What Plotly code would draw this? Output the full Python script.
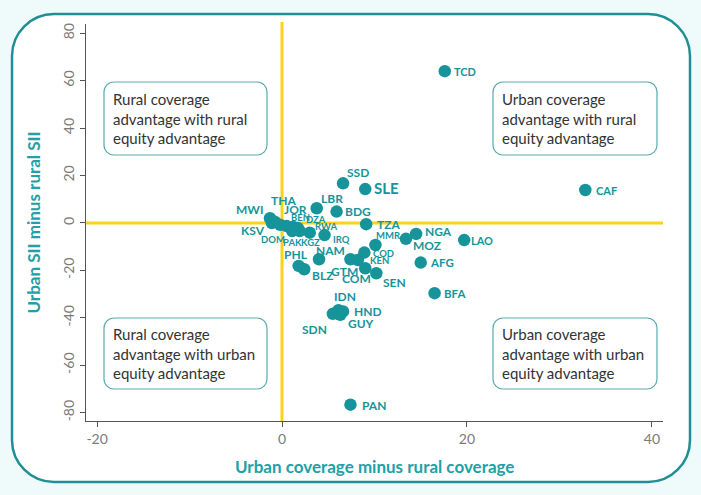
import plotly.graph_objects as go

# ---------------- data ----------------
countries = ["TCD", "CAF", "SSD", "SLE", "LBR", "BDG", "MWI", "KSV", "THA", "DOM", "JOR",
             "PAK", "BEN", "DZA", "KGZ", "RWA", "IRQ", "TZA", "MMR", "MOZ", "NGA", "LAO",
             "AFG", "BFA", "NAM", "PHL", "BLZ", "COD", "GTM", "KEN", "COM", "SEN",
             "SDN", "IDN", "GUY", "HND", "PAN"]
coverage_gap = [17.6, 32.8, 6.6, 9.0, 3.75, 5.9, -1.3, -1.1, -0.8, -0.2, 0.5,
                1.1, 1.2, 1.7, 1.9, 3.0, 4.6, 9.1, 10.1, 13.4, 14.5, 19.7,
                15.0, 16.5, 4.0, 1.8, 2.4, 8.9, 7.4, 8.2, 9.0, 10.2,
                5.5, 6.1, 6.3, 6.6, 7.4]
sii_gap = [64.0, 13.9, 16.7, 14.3, 6.2, 4.8, 2.0, 0.0, 0.5, -0.8, -1.3,
           -3.4, -1.7, -2.1, -3.4, -4.1, -5.1, -0.5, -9.3, -6.7, -4.6, -7.2,
           -16.7, -29.6, -15.3, -18.1, -19.5, -12.5, -15.3, -15.6, -19.1, -21.2,
           -38.3, -36.8, -38.7, -37.3, -76.6]
x_ticks = [-20, 0, 20, 40]
x_tick_labels = ["-20", "0", "20", "40"]
y_ticks = [-80, -60, -40, -20, 0, 20, 40, 60, 80]
y_tick_labels = ["-80", "-60", "-40", "-20", "0", "20", "40", "60", "80"]
quadrant_texts = [
    "Rural coverage<br>advantage with rural<br>equity advantage",
    "Urban coverage<br>advantage with rural<br>equity advantage",
    "Rural coverage<br>advantage with urban<br>equity advantage",
    "Urban coverage<br>advantage with urban<br>equity advantage",
]

# ---------------- label styling (anchor, dx px, dy px, font size) ----------------
label_style = {
    "TCD": ("left", 7, 0, 11), "CAF": ("left", 9, 0, 11), "SSD": ("center", 15, 11, 12),
    "SLE": ("left", 7, 1, 15), "LBR": ("center", 15, 10, 12), "BDG": ("left", 6, 0, 12),
    "MWI": ("right", -4, 9, 12), "KSV": ("right", -5, -8, 12), "THA": ("center", 9, 21, 12),
    "DOM": ("center", -7, -15, 9.5), "JOR": ("center", 9, 17, 12), "PAK": ("center", 0, -11, 9.5),
    "BEN": ("center", 7, 10, 9.5), "DZA": ("center", 18, 8, 9.5), "KGZ": ("center", 11, -11, 9.5),
    "RWA": ("center", 16, 6, 9.5), "IRQ": ("left", 6, -4, 9.5), "TZA": ("left", 9, 0, 12),
    "MMR": ("center", 13, 10, 9.5), "MOZ": ("center", 21, -7, 12), "NGA": ("left", 7, 2, 12),
    "LAO": ("left", 5, 0, 11), "AFG": ("left", 7, 0, 11.5), "BFA": ("left", 7, 0, 11.5),
    "NAM": ("center", 11, 9, 12), "PHL": ("center", -3, 11, 12), "BLZ": ("left", 6, -6, 12),
    "COD": ("left", 7, -1, 9.5), "GTM": ("center", -6, -12, 12), "KEN": ("left", 10, -1, 9.5),
    "COM": ("center", -9, -10, 12), "SEN": ("left", 5, -9, 12), "SDN": ("center", -18, -16, 12),
    "IDN": ("center", 7, 14, 12), "GUY": ("center", 21, -9, 12), "HND": ("left", 9, 0, 12),
    "PAN": ("left", 10, -1, 12),
}

TEAL = "#17949a"
YELLOW = "#FFD21A"
W, H = 701, 495
L, R, T, B = 86, 38, 24, 74
PW, PH = W - L - R, H - T - B


def px_x(px):
    return (px - L) / PW


def px_y(py):
    return (H - B - py) / PH


def rounded_path(x0, y0, x1, y1, r):
    k = 0.4477 * r
    X, Y = px_x, px_y
    return (f"M {X(x0 + r)},{Y(y0)} L {X(x1 - r)},{Y(y0)} "
            f"C {X(x1 - k)},{Y(y0)} {X(x1)},{Y(y0 + k)} {X(x1)},{Y(y0 + r)} "
            f"L {X(x1)},{Y(y1 - r)} "
            f"C {X(x1)},{Y(y1 - k)} {X(x1 - k)},{Y(y1)} {X(x1 - r)},{Y(y1)} "
            f"L {X(x0 + r)},{Y(y1)} "
            f"C {X(x0 + k)},{Y(y1)} {X(x0)},{Y(y1 - k)} {X(x0)},{Y(y1 - r)} "
            f"L {X(x0)},{Y(y0 + r)} "
            f"C {X(x0)},{Y(y0 + k)} {X(x0 + k)},{Y(y0)} {X(x0 + r)},{Y(y0)} Z")


fig = go.Figure()
fig.add_trace(go.Scatter(
    x=coverage_gap, y=sii_gap, mode="markers",
    marker=dict(size=12.5, color=TEAL, line=dict(width=0)),
    text=countries, hoverinfo="text", showlegend=False,
))

annotations = []
for c, xv, yv in zip(countries, coverage_gap, sii_gap):
    anc, dx, dy, fs = label_style[c]
    annotations.append(dict(
        x=xv, y=yv, xref="x", yref="y", text=c, showarrow=False,
        xanchor=anc, yanchor="middle", xshift=dx, yshift=dy,
        font=dict(family="Lato", size=fs, color=TEAL, weight="bold"),
    ))

shapes = []
# outer frame
shapes.append(dict(type="path", xref="paper", yref="paper", layer="below",
                   path=rounded_path(12, 14, 690, 482, 42),
                   fillcolor="white", line=dict(color="#1f8f95", width=2.5)))
# reference lines
shapes.append(dict(type="line", xref="x", yref="paper", x0=0, x1=0, y0=0, y1=1.005,
                   layer="below", line=dict(color=YELLOW, width=3)))
shapes.append(dict(type="line", xref="paper", yref="y", x0=0, x1=1, y0=0, y1=0,
                   layer="below", line=dict(color=YELLOW, width=3)))

# quadrant boxes (pixel boxes)
boxes = [(104, 82, 267, 155), (493, 82, 657, 155), (104, 318, 267, 389), (493, 318, 657, 389)]
for (bx0, by0, bx1, by1), txt in zip(boxes, quadrant_texts):
    shapes.append(dict(type="path", xref="paper", yref="paper", layer="below",
                       path=rounded_path(bx0, by0, bx1, by1, 10),
                       fillcolor="white", line=dict(color="#5aabad", width=1.2)))
    annotations.append(dict(
        x=px_x(bx0 + 7), y=px_y((by0 + by1) / 2), xref="paper", yref="paper",
        text=txt, showarrow=False, xanchor="left", yanchor="middle", align="left",
        font=dict(family="Lato", size=15, color="#333333"),
    ))

# axis titles
annotations.append(dict(x=0.5, y=px_y(466), xref="paper", yref="paper",
                        text="Urban coverage minus rural coverage", showarrow=False,
                        xanchor="center", yanchor="middle",
                        font=dict(family="Lato", size=17, color="#22a0a5", weight="bold")))
annotations.append(dict(x=px_x(33), y=0.5, xref="paper", yref="paper",
                        text="Urban SII minus rural SII", showarrow=False, textangle=-90,
                        xanchor="center", yanchor="middle",
                        font=dict(family="Lato", size=17, color="#22a0a5", weight="bold")))

fig.update_layout(
    width=W, height=H,
    margin=dict(l=L, r=R, t=T, b=B),
    paper_bgcolor="#effbfb",
    plot_bgcolor="rgba(0,0,0,0)",
    shapes=shapes,
    annotations=annotations,
    xaxis=dict(range=[-21.2, 41.2], tickvals=x_ticks, ticktext=x_tick_labels,
               showgrid=False, zeroline=False,
               showline=True, linecolor="#555555", linewidth=1,
               ticks="outside", ticklen=5, tickcolor="#555555",
               tickfont=dict(family="Lato", size=14, color="#7a7a7a")),
    yaxis=dict(range=[-83.5, 83.9], tickvals=y_ticks, ticktext=y_tick_labels,
               showgrid=False, zeroline=False,
               showline=True, linecolor="#555555", linewidth=1,
               ticks="outside", ticklen=5, tickcolor="#555555", tickangle=-90,
               tickfont=dict(family="Lato", size=14, color="#7a7a7a")),
)

fig.write_html("out.html", config={"displayModeBar": False},
               post_script="document.body.style.margin='0';document.body.style.background='#effbfb';")
